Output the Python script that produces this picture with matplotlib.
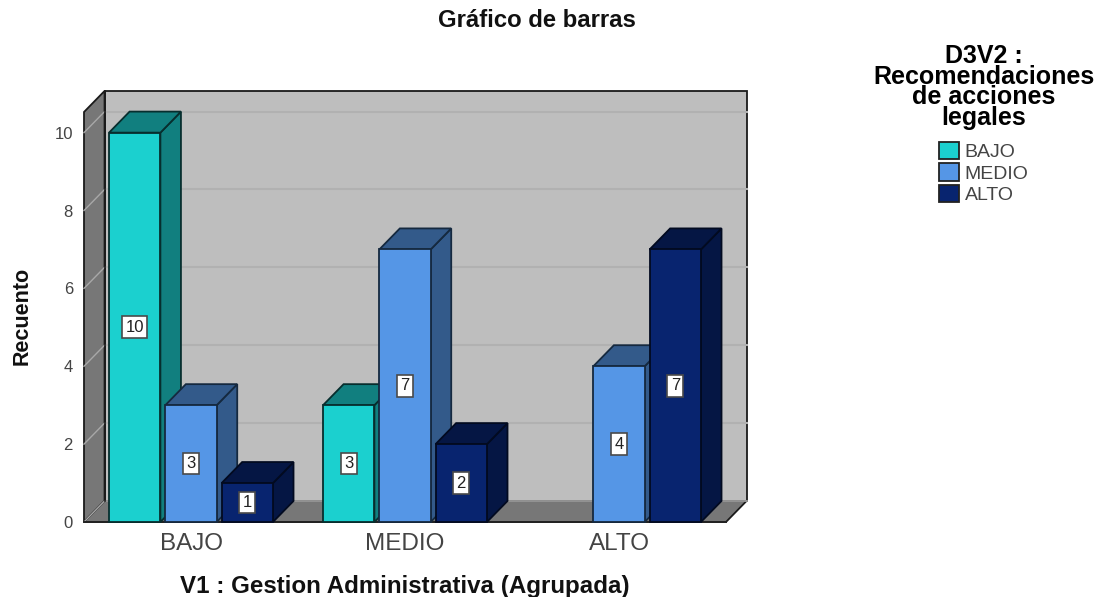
import matplotlib
matplotlib.use("Agg")
import matplotlib.pyplot as plt
from matplotlib.patches import Polygon, Patch

plt.rcParams['font.family'] = ['Liberation Sans', 'DejaVu Sans']

title = "Gráfico de barras"
xlabel = "V1 : Gestion Administrativa (Agrupada)"
ylabel = "Recuento"
legend_title = "D3V2 :\nRecomendaciones\nde acciones\nlegales"
categories = ["BAJO", "MEDIO", "ALTO"]
series_names = ["BAJO", "MEDIO", "ALTO"]
bajo_values = [10, 3, 0]
medio_values = [3, 7, 4]
alto_values = [1, 2, 7]
yticks = [0, 2, 4, 6, 8, 10]

front_colors = ["#1bd0cf", "#5596e6", "#08246f"]
side_colors = ["#117f7f", "#335a8a", "#051644"]
edge_colors = ["#072e2e", "#15293f", "#020a20"]

BAR_W = 0.24
BAR_STEP = 0.263
DX = 0.096
DY = 0.54
X0, X1 = -0.5, 2.5
YTOP = 10.53

fig = plt.figure(figsize=(11.05, 5.97), dpi=100)
ax = fig.add_axes([84/1105, 1-522/597, 642/1105, 410/597])
ax.set_xlim(X0, X1)
ax.set_ylim(0, YTOP)
for s in ax.spines.values():
    s.set_visible(False)
ax.patch.set_visible(False)


def poly(pts, fc, ec="#1a1a1a", lw=1.3, z=1):
    ax.add_patch(Polygon(pts, closed=True, facecolor=fc, edgecolor=ec,
                         linewidth=lw, zorder=z, clip_on=False, joinstyle="miter"))


# walls
poly([(X0+DX, DY), (X1+DX, DY), (X1+DX, YTOP+DY), (X0+DX, YTOP+DY)], "#bebebe", z=1)
poly([(X0, 0), (X0+DX, DY), (X0+DX, YTOP+DY), (X0, YTOP)], "#777777", z=1.1)
poly([(X0, 0), (X1, 0), (X1+DX, DY), (X0+DX, DY)], "#777777", z=1.1)
for v in yticks:
    if v:
        ax.plot([X0+DX, X1+DX], [v+DY, v+DY], color="#b1b1b1", lw=1.5, zorder=1.05, clip_on=False)
    ax.plot([X0, X0+DX], [v, v+DY], color="#a8a8a8", lw=1.0, zorder=1.2, clip_on=False)
ax.plot([X0+DX, X1+DX], [DY, DY], color="#a8a8a8", lw=1.2, zorder=1.2, clip_on=False)
ax.plot([X0+DX, X0+DX], [DY, YTOP+DY], color="#1a1a1a", lw=1.2, zorder=1.3, clip_on=False)

# bars
all_values = [bajo_values, medio_values, alto_values]
z = 2
for g in range(len(categories)):
    for s, values in enumerate(all_values):
        v = values[g]
        if v == 0:
            continue
        c = g + (s - 1) * BAR_STEP
        l, r = c - BAR_W/2, c + BAR_W/2
        ec = edge_colors[s]
        poly([(r, 0), (r+DX, DY), (r+DX, v+DY), (r, v)], side_colors[s], ec=ec, z=z)
        poly([(l, v), (r, v), (r+DX, v+DY), (l+DX, v+DY)], side_colors[s], ec=ec, z=z)
        poly([(l, 0), (r, 0), (r, v), (l, v)], front_colors[s], ec=ec, z=z+0.1)
        ax.text(c, v/2, str(v), ha="center", va="center", fontsize=12, color="#222222",
                zorder=50, bbox=dict(boxstyle="square,pad=0.2", fc="white", ec="#4a4a4a", lw=1.2))
        z += 1

ax.plot([X0, X1], [0, 0], color="#222222", lw=1.4, zorder=1.4, clip_on=False)

ax.set_xticks(range(len(categories)))
ax.set_xticklabels(categories, fontsize=17.5, color="#444444")
ax.set_yticks(yticks)
ax.set_yticklabels([str(v) for v in yticks], fontsize=12, color="#444444")
ax.tick_params(axis="x", length=0, pad=8)
ax.tick_params(axis="y", length=0, pad=8)

fig.text(537/1105, 1-20.5/597, title, ha="center", va="center", fontsize=17.2, fontweight="bold", color="#111111")
fig.text(405/1105, 1-586/597, xlabel, ha="center", va="center", fontsize=17.4, fontweight="bold", color="#111111")
fig.text(22/1105, 1-316/597, ylabel, ha="center", va="center", rotation=90, fontsize=15.5, fontweight="bold", color="#111111")

handles = [Patch(facecolor=c, edgecolor="#222222", linewidth=1.3) for c in front_colors]
leg = fig.legend(handles, series_names, loc="upper center",
                 bbox_to_anchor=(984/1105, 1-36/597), frameon=False,
                 fontsize=14, title=legend_title,
                 title_fontproperties={"size": 18, "weight": "bold"},
                 handlelength=1.0, handleheight=1.0, handletextpad=0.3,
                 labelspacing=0.1, borderaxespad=0, borderpad=0.4)
leg.get_title().set_linespacing(0.83)
leg.get_title().set_multialignment("center")
leg._legend_box.sep = 8.5
for t in leg.get_texts():
    t.set_color("#444444")

fig.savefig("out.png", dpi=100)
